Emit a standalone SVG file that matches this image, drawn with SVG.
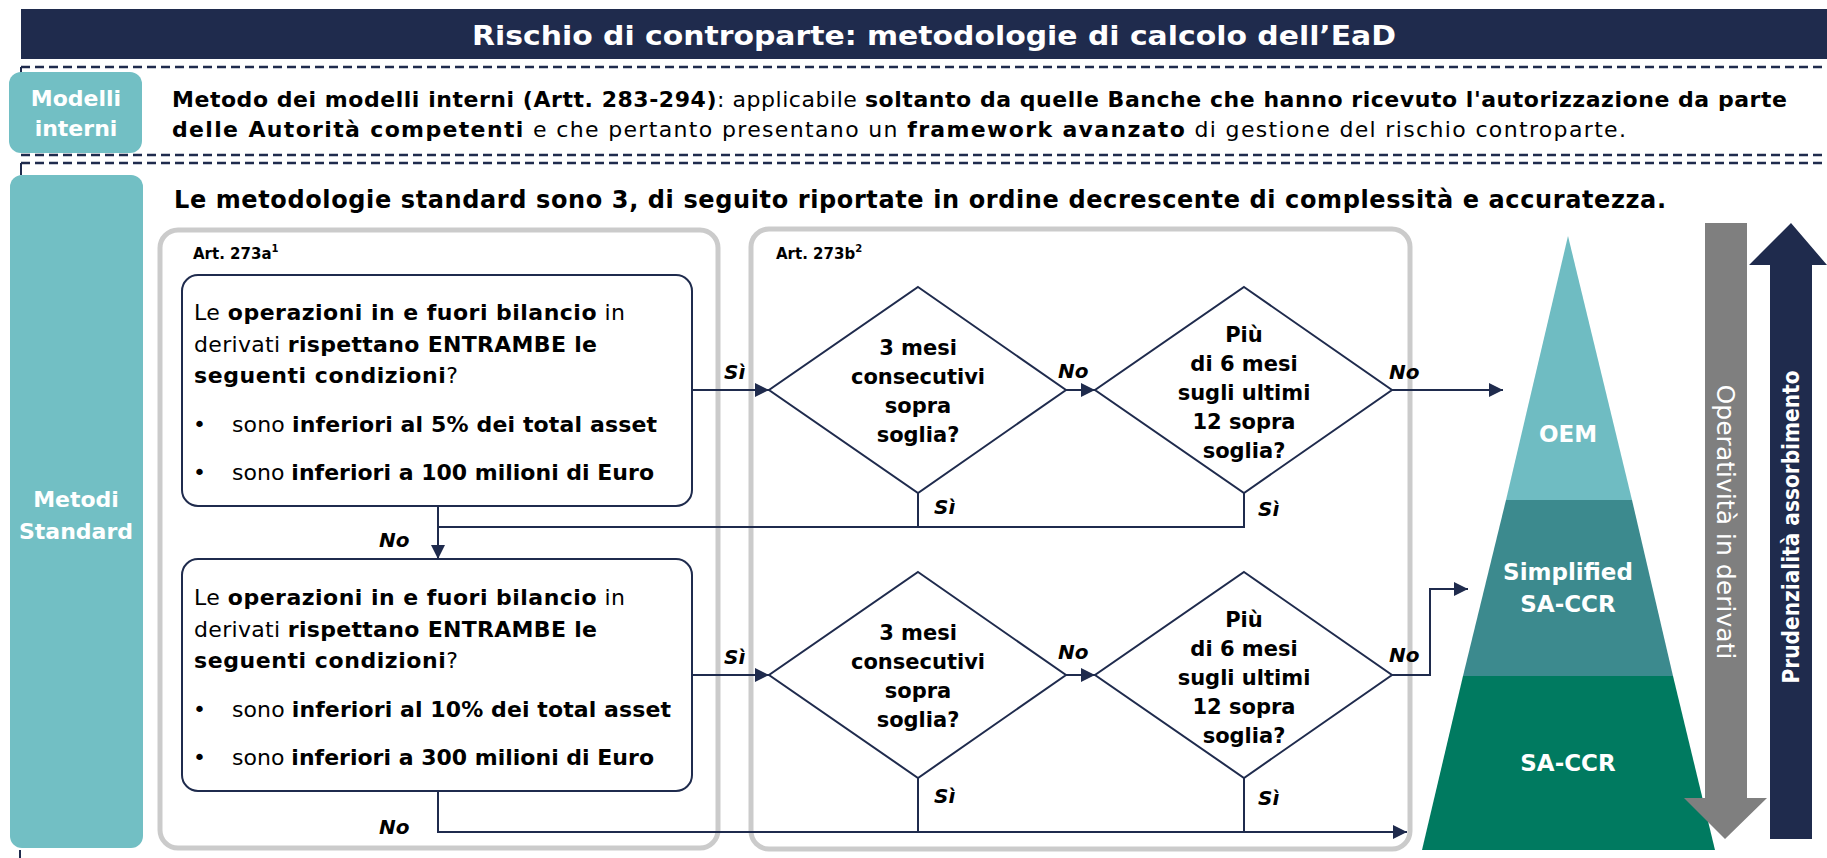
<svg xmlns="http://www.w3.org/2000/svg" width="1827" height="858" viewBox="0 0 1827 858">
<defs>
<marker id="ah" viewBox="0 0 10 10" refX="10" refY="5" markerWidth="15" markerHeight="14" markerUnits="userSpaceOnUse" orient="auto"><path d="M0,0 L10,5 L0,10 z" fill="#1F2B4D"/></marker>
<style>
text{font-family:"DejaVu Sans","Liberation Sans",sans-serif;fill:#000}
.b{font-weight:bold}
.dash{stroke:#1F2B4D;stroke-width:2.5;stroke-dasharray:9 5;fill:none}
.panel{fill:none;stroke:#CBCBCB;stroke-width:5}
.box{fill:#fff;stroke:#1F2B4D;stroke-width:2}
.dia{fill:#fff;stroke:#1F2B4D;stroke-width:2}
.conn{fill:none;stroke:#1F2B4D;stroke-width:2}
.lbl{font-weight:bold;font-style:italic;font-size:20px}
.body{font-size:22px}
.intro{font-size:22px}
.dt{font-size:21px;font-weight:bold;text-anchor:middle}
.side{fill:#72BFC4}
.sidet{fill:#fff;font-weight:bold;font-size:22px;text-anchor:middle}
.pyr{fill:#fff;font-weight:bold;font-size:23px;text-anchor:middle}
.art{font-size:15px;font-weight:bold}
</style>
</defs>
<rect width="1827" height="858" fill="#fff"/>

<g id="title">
<rect x="21" y="9" width="1806" height="50" fill="#1F2B4D"/>
<text x="934" y="45" text-anchor="middle" font-size="27" font-weight="bold" style="fill:#fff" textLength="924" lengthAdjust="spacingAndGlyphs">Rischio di controparte: metodologie di calcolo dell’EaD</text>
</g>

<g id="separators">
<line class="dash" x1="21" y1="67" x2="1827" y2="67"/>
<line class="dash" x1="21" y1="155" x2="1827" y2="155"/>
<line class="dash" x1="21" y1="163" x2="1827" y2="163"/>
<line x1="21" y1="67" x2="21" y2="78" stroke="#1F2B4D" stroke-width="2"/>
<line x1="21" y1="163" x2="21" y2="175" stroke="#1F2B4D" stroke-width="2"/>
<line x1="20" y1="850" x2="20" y2="858" stroke="#1F2B4D" stroke-width="2"/>
</g>

<g id="modelli-interni">
<rect class="side" x="9" y="72" width="133" height="81" rx="12"/>
<text class="sidet" x="76" y="106">Modelli</text>
<text class="sidet" x="76" y="136">interni</text>
<text class="intro" x="172" y="107" textLength="1615" lengthAdjust="spacing"><tspan class="b">Metodo dei modelli interni (Artt. 283-294)</tspan>: applicabile <tspan class="b">soltanto da quelle Banche che hanno ricevuto l'autorizzazione da parte</tspan></text>
<text class="intro" x="172" y="137" textLength="1454" lengthAdjust="spacing"><tspan class="b">delle Autorità competenti</tspan> e che pertanto presentano un <tspan class="b">framework avanzato</tspan> di gestione del rischio controparte.</text>
</g>

<g id="metodi-standard">
<rect class="side" x="10" y="175" width="133" height="673" rx="12"/>
<text class="sidet" x="76" y="507">Metodi</text>
<text class="sidet" x="76" y="539">Standard</text>
<text x="174" y="208" font-size="24" font-weight="bold" textLength="1492" lengthAdjust="spacing">Le metodologie standard sono 3, di seguito riportate in ordine decrescente di complessità e accuratezza.</text>
</g>

<g id="panel-273a">
<rect class="panel" x="160" y="230" width="558" height="618" rx="18"/>
<text class="art" x="193" y="259">Art. 273a<tspan font-size="10" dy="-7">1</tspan></text>
</g>

<g id="panel-273b">
<rect class="panel" x="751" y="229" width="659" height="620" rx="18"/>
<text class="art" x="776" y="259">Art. 273b<tspan font-size="10" dy="-7">2</tspan></text>
</g>

<g id="box1">
<rect class="box" x="182" y="275" width="510" height="231" rx="16"/>
<text class="body" x="194" y="320" textLength="431" lengthAdjust="spacing">Le <tspan class="b">operazioni in e fuori bilancio</tspan> in</text>
<text class="body" x="194" y="352" textLength="403" lengthAdjust="spacing">derivati <tspan class="b">rispettano ENTRAMBE le</tspan></text>
<text class="body" x="194" y="383" textLength="264" lengthAdjust="spacing"><tspan class="b">seguenti condizioni</tspan>?</text>
<text class="body" x="193" y="432">•</text>
<text class="body" x="232" y="432" textLength="425" lengthAdjust="spacing">sono <tspan class="b">inferiori al 5% dei total asset</tspan></text>
<text class="body" x="193" y="480">•</text>
<text class="body" x="232" y="480" textLength="422" lengthAdjust="spacing">sono <tspan class="b">inferiori a 100 milioni di Euro</tspan></text>
</g>

<g id="box2">
<rect class="box" x="182" y="559" width="510" height="232" rx="16"/>
<text class="body" x="194" y="605" textLength="431" lengthAdjust="spacing">Le <tspan class="b">operazioni in e fuori bilancio</tspan> in</text>
<text class="body" x="194" y="637" textLength="403" lengthAdjust="spacing">derivati <tspan class="b">rispettano ENTRAMBE le</tspan></text>
<text class="body" x="194" y="668" textLength="264" lengthAdjust="spacing"><tspan class="b">seguenti condizioni</tspan>?</text>
<text class="body" x="193" y="717">•</text>
<text class="body" x="232" y="717" textLength="439" lengthAdjust="spacing">sono <tspan class="b">inferiori al 10% dei total asset</tspan></text>
<text class="body" x="193" y="765">•</text>
<text class="body" x="232" y="765" textLength="422" lengthAdjust="spacing">sono <tspan class="b">inferiori a 300 milioni di Euro</tspan></text>
</g>

<g id="d1">
<polygon class="dia" points="918,287 1066,390 918,493 769,390"/>
<text class="dt" x="918" y="355">3 mesi</text>
<text class="dt" x="918" y="384">consecutivi</text>
<text class="dt" x="918" y="413">sopra</text>
<text class="dt" x="918" y="442">soglia?</text>
</g>
<g id="d2">
<polygon class="dia" points="1244,287 1392,390 1244,493 1095,390"/>
<text class="dt" x="1244" y="342">Più</text>
<text class="dt" x="1244" y="371">di 6 mesi</text>
<text class="dt" x="1244" y="400">sugli ultimi</text>
<text class="dt" x="1244" y="429">12 sopra</text>
<text class="dt" x="1244" y="458">soglia?</text>
</g>
<g id="d3">
<polygon class="dia" points="918,572 1066,675 918,778 769,675"/>
<text class="dt" x="918" y="640">3 mesi</text>
<text class="dt" x="918" y="669">consecutivi</text>
<text class="dt" x="918" y="698">sopra</text>
<text class="dt" x="918" y="727">soglia?</text>
</g>
<g id="d4">
<polygon class="dia" points="1244,572 1392,675 1244,778 1095,675"/>
<text class="dt" x="1244" y="627">Più</text>
<text class="dt" x="1244" y="656">di 6 mesi</text>
<text class="dt" x="1244" y="685">sugli ultimi</text>
<text class="dt" x="1244" y="714">12 sopra</text>
<text class="dt" x="1244" y="743">soglia?</text>
</g>

<g id="pyramid">
<polygon points="1568,236 1632,500 1506,500" fill="#6FBCC2"/>
<polygon points="1506,500 1632,500 1673,676 1463,676" fill="#3C8A8E"/>
<polygon points="1463,676 1673,676 1715,850 1422,850" fill="#007A60"/>
<text class="pyr" x="1568" y="442">OEM</text>
<text class="pyr" x="1568" y="580">Simplified</text>
<text class="pyr" x="1568" y="612">SA-CCR</text>
<text class="pyr" x="1568" y="771">SA-CCR</text>
</g>

<g id="arrow-operativita">
<polygon points="1705,223 1747,223 1747,798 1767,798 1725,839 1684,798 1705,798" fill="#7F7F7F"/>
<text transform="translate(1726,522) rotate(90)" x="0" y="9" text-anchor="middle" font-size="25" style="fill:#fff" textLength="275" lengthAdjust="spacingAndGlyphs">Operatività in derivati</text>
</g>
<g id="arrow-prudenzialita">
<polygon points="1791,223 1827,265 1812,265 1812,839 1770,839 1770,265 1749,265" fill="#1F2B4D"/>
<text transform="translate(1790,527) rotate(-90)" x="0" y="9" text-anchor="middle" font-size="23" font-weight="bold" style="fill:#fff" textLength="313" lengthAdjust="spacingAndGlyphs">Prudenzialità assorbimento</text>
</g>

<g id="connectors">
<path class="conn" d="M692,390 H769" marker-end="url(#ah)"/>
<path class="conn" d="M1066,390 H1095" marker-end="url(#ah)"/>
<path class="conn" d="M1392,390 H1503" marker-end="url(#ah)"/>
<path class="conn" d="M918,493 V527 M1244,493 V527 H438"/>
<path class="conn" d="M438,506 V559" marker-end="url(#ah)"/>
<path class="conn" d="M692,675 H769" marker-end="url(#ah)"/>
<path class="conn" d="M1066,675 H1095" marker-end="url(#ah)"/>
<path class="conn" d="M1392,675 H1430 V589 H1468" marker-end="url(#ah)"/>
<path class="conn" d="M918,778 V832 M1244,778 V832"/>
<path class="conn" d="M438,791 V832 H1407" marker-end="url(#ah)"/>
<text class="lbl" x="724" y="379">Sì</text>
<text class="lbl" x="1058" y="378">No</text>
<text class="lbl" x="1389" y="379">No</text>
<text class="lbl" x="934" y="514">Sì</text>
<text class="lbl" x="1258" y="516">Sì</text>
<text class="lbl" x="379" y="547">No</text>
<text class="lbl" x="724" y="664">Sì</text>
<text class="lbl" x="1058" y="659">No</text>
<text class="lbl" x="1389" y="662">No</text>
<text class="lbl" x="934" y="803">Sì</text>
<text class="lbl" x="1258" y="805">Sì</text>
<text class="lbl" x="379" y="834">No</text>
</g>
</svg>
